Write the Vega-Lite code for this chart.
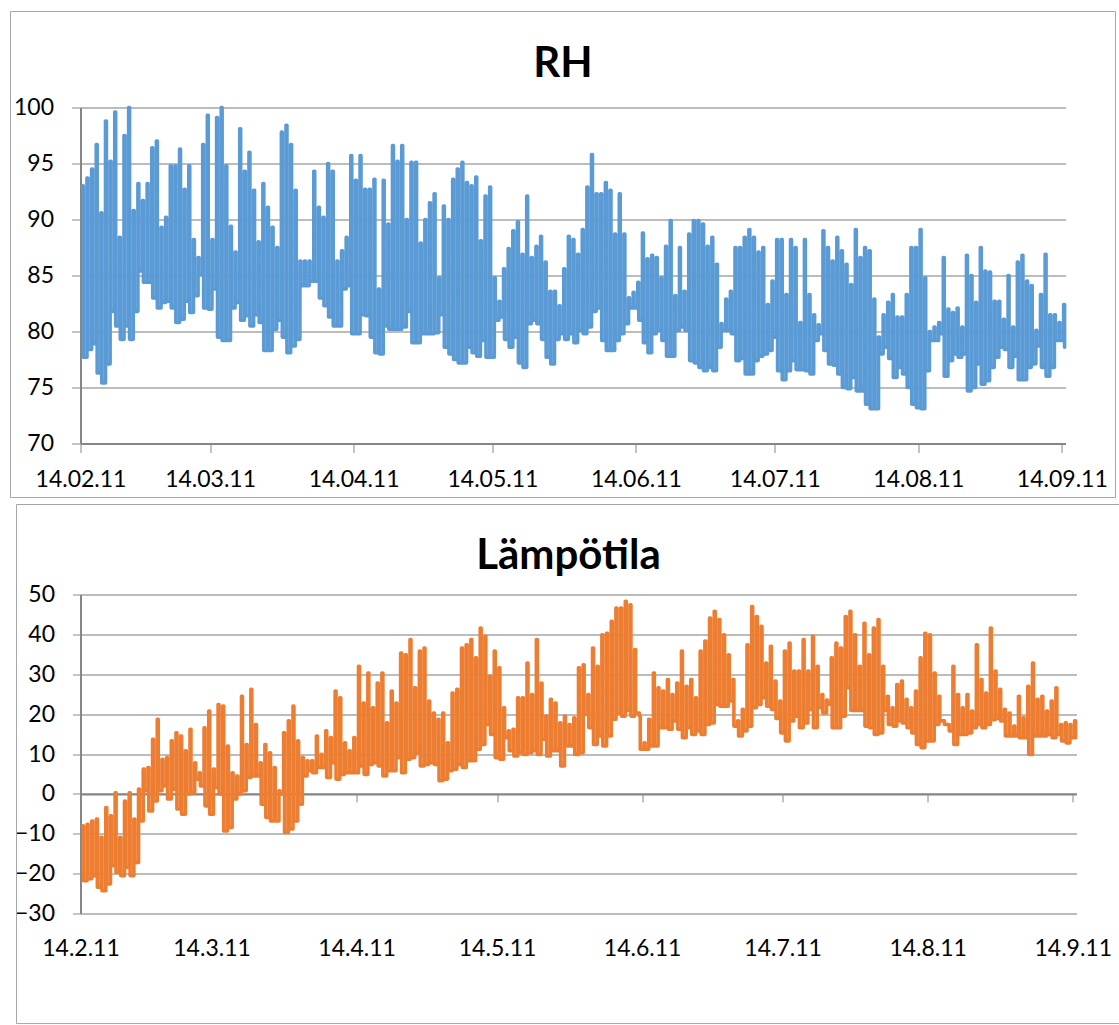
{
"$schema": "https://vega.github.io/schema/vega-lite/v6.json",
"background": "white",
"padding": {"left": 9.5, "top": 10.5, "right": 0, "bottom": 0},
"columns": 1,
"align": "none",
"spacing": 5,
"config": {"view": {"stroke": null}, "font": "Lato"},
"data": {"values": [
{"doy":45.4,"rh":93,"t":-8},{"doy":45.6,"rh":77.7,"t":-21.8},
{"doy":46.4,"rh":93.7,"t":-7.6},{"doy":46.6,"rh":78.4,"t":-21.3},
{"doy":47.4,"rh":94.5,"t":-6.8},{"doy":47.6,"rh":78.9,"t":-20.5},
{"doy":48.4,"rh":96.7,"t":-6.3},{"doy":48.6,"rh":76.3,"t":-23.4},
{"doy":49.4,"rh":90.6,"t":-10.9},{"doy":49.6,"rh":75.4,"t":-24.3},
{"doy":50.4,"rh":98.8,"t":-3.4},{"doy":50.6,"rh":77.1,"t":-22.6},
{"doy":51.4,"rh":95.2,"t":-5.5},{"doy":51.6,"rh":81.8,"t":-18},
{"doy":52.4,"rh":99.6,"t":0.3},{"doy":52.6,"rh":80.5,"t":-19.7},
{"doy":53.4,"rh":88.4,"t":-10.9},{"doy":53.6,"rh":79.3,"t":-20.5},
{"doy":54.4,"rh":97.5,"t":-1.8},{"doy":54.6,"rh":80.5,"t":-18.4},
{"doy":55.4,"rh":100,"t":0.3},{"doy":55.6,"rh":79.3,"t":-20.5},
{"doy":56.4,"rh":90.8,"t":-6.3},{"doy":56.6,"rh":81.8,"t":-17.2},
{"doy":57.4,"rh":93.2,"t":1.2},{"doy":57.6,"rh":85.4,"t":-6.8},
{"doy":58.4,"rh":91.7,"t":6.2},{"doy":58.6,"rh":84.4,"t":0.8},
{"doy":59.4,"rh":93.2,"t":6.6},{"doy":59.6,"rh":84.4,"t":-4.3},
{"doy":60.4,"rh":96.4,"t":13.7},{"doy":60.6,"rh":83,"t":-1.8},
{"doy":61.4,"rh":97,"t":18.7},{"doy":61.6,"rh":82.1,"t":0.8},
{"doy":62.4,"rh":89.3,"t":8.7},{"doy":62.6,"rh":82.6,"t":2},
{"doy":63.4,"rh":90.2,"t":9.1},{"doy":63.6,"rh":82.7,"t":-1.3},
{"doy":64.4,"rh":94.8,"t":13.3},{"doy":64.6,"rh":82.1,"t":1.2},
{"doy":65.4,"rh":94.8,"t":15.3},{"doy":65.6,"rh":80.8,"t":-3.8},
{"doy":66.4,"rh":96.3,"t":14.5},{"doy":66.6,"rh":81.1,"t":-5.1},
{"doy":67.4,"rh":92.7,"t":10.8},{"doy":67.6,"rh":82.7,"t":0},
{"doy":68.4,"rh":94.8,"t":16.2},{"doy":68.6,"rh":81.7,"t":0.3},
{"doy":69.4,"rh":88.2,"t":7.8},{"doy":69.6,"rh":83.2,"t":3.7},
{"doy":70.4,"rh":86.6,"t":5.3},{"doy":70.6,"rh":85.1,"t":2},
{"doy":71.4,"rh":96.7,"t":16.6},{"doy":71.6,"rh":82.1,"t":-3},
{"doy":72.4,"rh":99.3,"t":20.8},{"doy":72.6,"rh":82,"t":-5.1},
{"doy":73.4,"rh":88.2,"t":6.2},{"doy":73.6,"rh":83.8,"t":1.6},
{"doy":74.4,"rh":99.1,"t":22.4},{"doy":74.6,"rh":79.5,"t":0},
{"doy":75.4,"rh":100,"t":22},{"doy":75.6,"rh":79.2,"t":-9.3},
{"doy":76.4,"rh":94.8,"t":12},{"doy":76.6,"rh":79.2,"t":-8.4},
{"doy":77.4,"rh":89.4,"t":5.3},{"doy":77.6,"rh":82.1,"t":-1.3},
{"doy":78.4,"rh":87.1,"t":4.5},{"doy":78.6,"rh":82.6,"t":0},
{"doy":79.4,"rh":98.1,"t":24.5},{"doy":79.6,"rh":81,"t":0.8},
{"doy":80.4,"rh":94.3,"t":12.4},{"doy":80.6,"rh":81.4,"t":4.1},
{"doy":81.4,"rh":96,"t":26.2},{"doy":81.6,"rh":80.5,"t":4.5},
{"doy":82.4,"rh":92.6,"t":17.4},{"doy":82.6,"rh":81.5,"t":4.5},
{"doy":83.4,"rh":88,"t":7.8},{"doy":83.6,"rh":80.8,"t":-2.6},
{"doy":84.4,"rh":93.2,"t":12.4},{"doy":84.6,"rh":78.3,"t":-5.9},
{"doy":85.4,"rh":91.1,"t":10.3},{"doy":85.6,"rh":78.3,"t":-6.8},
{"doy":86.4,"rh":89.3,"t":6.6},{"doy":86.6,"rh":80.2,"t":-6.8},
{"doy":87.4,"rh":87.5,"t":0.8},{"doy":87.6,"rh":81,"t":0},
{"doy":88.4,"rh":97.8,"t":15.3},{"doy":88.6,"rh":79.5,"t":-9.7},
{"doy":89.4,"rh":98.4,"t":18.3},{"doy":89.6,"rh":78.1,"t":-8.8},
{"doy":90.4,"rh":96.7,"t":22},{"doy":90.6,"rh":78.7,"t":-6.8},
{"doy":91.4,"rh":92.6,"t":13.3},{"doy":91.6,"rh":79.3,"t":-2.6},
{"doy":92.4,"rh":86.3,"t":9.1},{"doy":92.6,"rh":84.1,"t":4.5},
{"doy":93.4,"rh":86.3,"t":8.3},{"doy":93.6,"rh":84.1,"t":5.8},
{"doy":94.4,"rh":86.3,"t":8.3},{"doy":94.6,"rh":84.5,"t":5.3},
{"doy":95.4,"rh":94.3,"t":14.5},{"doy":95.6,"rh":84.5,"t":6.6},
{"doy":96.4,"rh":91.1,"t":9.9},{"doy":96.6,"rh":83,"t":6.6},
{"doy":97.4,"rh":90.2,"t":15.8},{"doy":97.6,"rh":82.3,"t":4.1},
{"doy":98.4,"rh":95,"t":14.1},{"doy":98.6,"rh":81.3,"t":7.8},
{"doy":99.4,"rh":94.3,"t":25.8},{"doy":99.6,"rh":80.5,"t":3.7},
{"doy":100.4,"rh":86.3,"t":24.1},{"doy":100.6,"rh":80.5,"t":4.9},
{"doy":101.4,"rh":87.2,"t":12.8},{"doy":101.6,"rh":83.8,"t":5.3},
{"doy":102.4,"rh":88.4,"t":10.8},{"doy":102.6,"rh":84.1,"t":5.3},
{"doy":103.4,"rh":95.7,"t":14.1},{"doy":103.6,"rh":79.8,"t":5.3},
{"doy":104.4,"rh":93.5,"t":32},{"doy":104.6,"rh":79.8,"t":7},
{"doy":105.4,"rh":95.7,"t":22.8},{"doy":105.6,"rh":81.5,"t":4.9},
{"doy":106.4,"rh":92.7,"t":30.3},{"doy":106.6,"rh":81.4,"t":7.4},
{"doy":107.4,"rh":92.7,"t":21.6},{"doy":107.6,"rh":79.5,"t":7.8},
{"doy":108.4,"rh":93.6,"t":27.8},{"doy":108.6,"rh":78.1,"t":7},
{"doy":109.4,"rh":83.8,"t":30.3},{"doy":109.6,"rh":78,"t":4.5},
{"doy":110.4,"rh":93.5,"t":17.8},{"doy":110.6,"rh":80.5,"t":5.8},
{"doy":111.4,"rh":89.6,"t":25.8},{"doy":111.6,"rh":80.2,"t":5.8},
{"doy":112.4,"rh":96.6,"t":22.8},{"doy":112.6,"rh":80.2,"t":9.1},
{"doy":113.4,"rh":95.2,"t":35.3},{"doy":113.6,"rh":80.2,"t":5.3},
{"doy":114.4,"rh":96.6,"t":34.9},{"doy":114.6,"rh":80.4,"t":8.7},
{"doy":115.4,"rh":90,"t":38.7},{"doy":115.6,"rh":81.8,"t":9.1},
{"doy":116.4,"rh":95.1,"t":26.6},{"doy":116.6,"rh":79,"t":10.3},
{"doy":117.4,"rh":95.1,"t":35.8},{"doy":117.6,"rh":79,"t":7},
{"doy":118.4,"rh":87.9,"t":36.6},{"doy":118.6,"rh":79.8,"t":7.4},
{"doy":119.4,"rh":90,"t":23.3},{"doy":119.6,"rh":79.8,"t":7.8},
{"doy":120.4,"rh":91.5,"t":20.3},{"doy":120.6,"rh":79.8,"t":7.4},
{"doy":121.4,"rh":92.3,"t":18.7},{"doy":121.6,"rh":79.9,"t":3.3},
{"doy":122.4,"rh":84.8,"t":20.3},{"doy":122.6,"rh":81.5,"t":3.7},
{"doy":123.4,"rh":91.2,"t":12.8},{"doy":123.6,"rh":78.6,"t":5.8},
{"doy":124.4,"rh":90,"t":25.3},{"doy":124.6,"rh":78,"t":6.2},
{"doy":125.4,"rh":93.6,"t":26.2},{"doy":125.6,"rh":77.5,"t":7.4},
{"doy":126.4,"rh":94.5,"t":36.6},{"doy":126.6,"rh":77.2,"t":6.6},
{"doy":127.4,"rh":95.1,"t":37.4},{"doy":127.6,"rh":77.2,"t":8.3},
{"doy":128.4,"rh":93.3,"t":38.7},{"doy":128.6,"rh":78.6,"t":8.3},
{"doy":129.4,"rh":93,"t":34.1},{"doy":129.6,"rh":78.1,"t":11.2},
{"doy":130.4,"rh":93.8,"t":41.6},{"doy":130.6,"rh":77.8,"t":12.4},
{"doy":131.4,"rh":88.1,"t":39.5},{"doy":131.6,"rh":79.2,"t":17.4},
{"doy":132.4,"rh":92.1,"t":29.5},{"doy":132.6,"rh":77.7,"t":14.9},
{"doy":133.4,"rh":92.9,"t":35.8},{"doy":133.6,"rh":77.7,"t":9.1},
{"doy":134.4,"rh":84.8,"t":31.6},{"doy":134.6,"rh":81,"t":8.7},
{"doy":135.4,"rh":82.7,"t":21.6},{"doy":135.6,"rh":81.3,"t":14.1},
{"doy":136.4,"rh":85.6,"t":15.8},{"doy":136.6,"rh":79.3,"t":10.8},
{"doy":137.4,"rh":87.4,"t":16.2},{"doy":137.6,"rh":78.6,"t":9.5},
{"doy":138.4,"rh":89,"t":24.1},{"doy":138.6,"rh":79.5,"t":10.3},
{"doy":139.4,"rh":89.8,"t":24.1},{"doy":139.6,"rh":77.2,"t":9.9},
{"doy":140.4,"rh":86.9,"t":32.8},{"doy":140.6,"rh":76.8,"t":10.3},
{"doy":141.4,"rh":92.1,"t":24.9},{"doy":141.6,"rh":80.7,"t":10.8},
{"doy":142.4,"rh":86.6,"t":38.7},{"doy":142.6,"rh":81,"t":9.9},
{"doy":143.4,"rh":87.6,"t":27.8},{"doy":143.6,"rh":80.7,"t":13.7},
{"doy":144.4,"rh":88.5,"t":19.5},{"doy":144.6,"rh":79.3,"t":9.5},
{"doy":145.4,"rh":86.2,"t":23.7},{"doy":145.6,"rh":77.7,"t":10.8},
{"doy":146.4,"rh":83.6,"t":22.8},{"doy":146.6,"rh":77.1,"t":10.8},
{"doy":147.4,"rh":83.6,"t":17.8},{"doy":147.6,"rh":79.3,"t":7},
{"doy":148.4,"rh":82.3,"t":19.5},{"doy":148.6,"rh":79.8,"t":12},
{"doy":149.4,"rh":85.6,"t":17.4},{"doy":149.6,"rh":79.3,"t":12},
{"doy":150.4,"rh":88.5,"t":19.1},{"doy":150.6,"rh":79.8,"t":9.9},
{"doy":151.4,"rh":88.2,"t":31.6},{"doy":151.6,"rh":79,"t":10.3},
{"doy":152.4,"rh":86.9,"t":32.4},{"doy":152.6,"rh":80.1,"t":19.9},
{"doy":153.4,"rh":89.1,"t":24.9},{"doy":153.6,"rh":79.8,"t":16.6},
{"doy":154.4,"rh":92.9,"t":36.6},{"doy":154.6,"rh":80.4,"t":12.4},
{"doy":155.4,"rh":95.8,"t":32},{"doy":155.6,"rh":81.8,"t":14.5},
{"doy":156.4,"rh":92.3,"t":39.9},{"doy":156.6,"rh":82.1,"t":12},
{"doy":157.4,"rh":92.3,"t":40.3},{"doy":157.6,"rh":79.2,"t":14.5},
{"doy":158.4,"rh":93.3,"t":43.3},{"doy":158.6,"rh":78.3,"t":18.7},
{"doy":159.4,"rh":92.6,"t":46.6},{"doy":159.6,"rh":78.3,"t":20.3},
{"doy":160.4,"rh":88.7,"t":46.6},{"doy":160.6,"rh":79.2,"t":19.5},
{"doy":161.4,"rh":92.3,"t":48.3},{"doy":161.6,"rh":79.8,"t":20.9},
{"doy":162.4,"rh":88.7,"t":47.4},{"doy":162.6,"rh":80.7,"t":19.5},
{"doy":163.4,"rh":83,"t":36.2},{"doy":163.6,"rh":82.1,"t":20.3},
{"doy":164.4,"rh":83.5,"t":19.5},{"doy":164.6,"rh":82.1,"t":11.2},
{"doy":165.4,"rh":84.4,"t":12.8},{"doy":165.6,"rh":81,"t":11.2},
{"doy":166.4,"rh":88.8,"t":18.7},{"doy":166.6,"rh":79,"t":12},
{"doy":167.4,"rh":86.5,"t":30.3},{"doy":167.6,"rh":78.1,"t":12},
{"doy":168.4,"rh":86.8,"t":26.6},{"doy":168.6,"rh":79.8,"t":16.6},
{"doy":169.4,"rh":86.6,"t":25.8},{"doy":169.6,"rh":80.1,"t":16.6},
{"doy":170.4,"rh":84.8,"t":28.7},{"doy":170.6,"rh":79.2,"t":16.2},
{"doy":171.4,"rh":87.6,"t":24.9},{"doy":171.6,"rh":77.8,"t":18.3},
{"doy":172.4,"rh":89.9,"t":27.8},{"doy":172.6,"rh":77.8,"t":16.2},
{"doy":173.4,"rh":83.2,"t":35.8},{"doy":173.6,"rh":80.1,"t":14.1},
{"doy":174.4,"rh":87.5,"t":27},{"doy":174.6,"rh":80.4,"t":16.6},
{"doy":175.4,"rh":83.6,"t":28.7},{"doy":175.6,"rh":80.1,"t":14.9},
{"doy":176.4,"rh":88.7,"t":24.1},{"doy":176.6,"rh":77.4,"t":15.8},
{"doy":177.4,"rh":89.9,"t":35.8},{"doy":177.6,"rh":77.2,"t":14.9},
{"doy":178.4,"rh":89.9,"t":38.3},{"doy":178.6,"rh":76.8,"t":17.4},
{"doy":179.4,"rh":89.6,"t":44.1},{"doy":179.6,"rh":76.5,"t":17.8},
{"doy":180.4,"rh":87.6,"t":45.8},{"doy":180.6,"rh":76.8,"t":22.4},
{"doy":181.4,"rh":88.4,"t":43.7},{"doy":181.6,"rh":76.5,"t":22},
{"doy":182.4,"rh":86,"t":39.9},{"doy":182.6,"rh":78.6,"t":22},
{"doy":183.4,"rh":80.7,"t":34.9},{"doy":183.6,"rh":80.1,"t":23.3},
{"doy":184.4,"rh":82.9,"t":28.7},{"doy":184.6,"rh":80.1,"t":17},
{"doy":185.4,"rh":83.6,"t":18.3},{"doy":185.6,"rh":79.8,"t":14.5},
{"doy":186.4,"rh":87.5,"t":21.2},{"doy":186.6,"rh":77.4,"t":15.8},
{"doy":187.4,"rh":87.5,"t":37.4},{"doy":187.6,"rh":77.6,"t":17},
{"doy":188.4,"rh":88.4,"t":47},{"doy":188.6,"rh":76.2,"t":21.6},
{"doy":189.4,"rh":89.1,"t":44.5},{"doy":189.6,"rh":76.2,"t":22.4},
{"doy":190.4,"rh":88.4,"t":42},{"doy":190.6,"rh":77.4,"t":24.1},
{"doy":191.4,"rh":87.1,"t":32.8},{"doy":191.6,"rh":77.8,"t":22},
{"doy":192.4,"rh":87.5,"t":37},{"doy":192.6,"rh":78,"t":21.2},
{"doy":193.4,"rh":82.4,"t":28.3},{"doy":193.6,"rh":78.3,"t":18.9},
{"doy":194.4,"rh":84.5,"t":23.3},{"doy":194.6,"rh":79.5,"t":15.3},
{"doy":195.4,"rh":88.2,"t":35.8},{"doy":195.6,"rh":76.5,"t":13.3},
{"doy":196.4,"rh":88.2,"t":37.8},{"doy":196.6,"rh":75.7,"t":18.3},
{"doy":197.4,"rh":83.3,"t":30.8},{"doy":197.6,"rh":76.5,"t":19.5},
{"doy":198.4,"rh":88.2,"t":30.8},{"doy":198.6,"rh":77.4,"t":16.6},
{"doy":199.4,"rh":87.5,"t":38.7},{"doy":199.6,"rh":76.6,"t":17.8},
{"doy":200.4,"rh":80.8,"t":30.8},{"doy":200.6,"rh":76.6,"t":21.2},
{"doy":201.4,"rh":88.2,"t":39.5},{"doy":201.6,"rh":76.5,"t":16.6},
{"doy":202.4,"rh":83.3,"t":32},{"doy":202.6,"rh":76.2,"t":21.6},
{"doy":203.4,"rh":81.5,"t":24.9},{"doy":203.6,"rh":79.2,"t":20.3},
{"doy":204.4,"rh":80.6,"t":23.5},{"doy":204.6,"rh":79.8,"t":22.5},
{"doy":205.4,"rh":89,"t":34.1},{"doy":205.6,"rh":78.3,"t":16.6},
{"doy":206.4,"rh":87.5,"t":37.8},{"doy":206.6,"rh":77.1,"t":16.6},
{"doy":207.4,"rh":86.3,"t":36.6},{"doy":207.6,"rh":77,"t":19.5},
{"doy":208.4,"rh":88.4,"t":44.5},{"doy":208.6,"rh":76.2,"t":26.6},
{"doy":209.4,"rh":87.2,"t":45.8},{"doy":209.6,"rh":75,"t":20.9},
{"doy":210.4,"rh":86,"t":39.9},{"doy":210.6,"rh":74.9,"t":20.9},
{"doy":211.4,"rh":84.2,"t":32},{"doy":211.6,"rh":75.9,"t":20.9},
{"doy":212.4,"rh":89.1,"t":42.8},{"doy":212.6,"rh":74.7,"t":17},
{"doy":213.4,"rh":86.6,"t":34.9},{"doy":213.6,"rh":74.7,"t":16.6},
{"doy":214.4,"rh":87.5,"t":41.6},{"doy":214.6,"rh":73.5,"t":14.9},
{"doy":215.4,"rh":87.2,"t":43.7},{"doy":215.6,"rh":73.1,"t":15.3},
{"doy":216.4,"rh":82.9,"t":32},{"doy":216.6,"rh":73.1,"t":20.9},
{"doy":217.4,"rh":79.5,"t":24.5},{"doy":217.6,"rh":78,"t":17.4},
{"doy":218.4,"rh":81.5,"t":21.6},{"doy":218.6,"rh":78.6,"t":17},
{"doy":219.4,"rh":82.6,"t":27.4},{"doy":219.6,"rh":77.6,"t":18.3},
{"doy":220.4,"rh":83.3,"t":28.3},{"doy":220.6,"rh":75.9,"t":17.8},
{"doy":221.4,"rh":81.3,"t":23.7},{"doy":221.6,"rh":76.8,"t":16.6},
{"doy":222.4,"rh":81.3,"t":21.6},{"doy":222.6,"rh":76.2,"t":15.3},
{"doy":223.4,"rh":83.3,"t":25.8},{"doy":223.6,"rh":75,"t":12.4},
{"doy":224.4,"rh":87.5,"t":34.1},{"doy":224.6,"rh":73.5,"t":11.6},
{"doy":225.4,"rh":87.5,"t":40.3},{"doy":225.6,"rh":73.2,"t":13.3},
{"doy":226.4,"rh":89.1,"t":39.9},{"doy":226.6,"rh":73.1,"t":13.3},
{"doy":227.4,"rh":84.8,"t":30.3},{"doy":227.6,"rh":76.5,"t":17.4},
{"doy":228.4,"rh":80,"t":24.5},{"doy":228.6,"rh":79.2,"t":18.3},
{"doy":229.4,"rh":80.4,"t":18.3},{"doy":229.6,"rh":79.2,"t":17.4},
{"doy":230.4,"rh":80.8,"t":17.4},{"doy":230.6,"rh":79.8,"t":15.8},
{"doy":231.4,"rh":86.6,"t":32},{"doy":231.6,"rh":76,"t":12.4},
{"doy":232.4,"rh":82,"t":24.9},{"doy":232.6,"rh":77.4,"t":14.9},
{"doy":233.4,"rh":81.7,"t":21.6},{"doy":233.6,"rh":78,"t":14.9},
{"doy":234.4,"rh":82.1,"t":24.9},{"doy":234.6,"rh":77.7,"t":15.3},
{"doy":235.4,"rh":80.4,"t":20.8},{"doy":235.6,"rh":78,"t":16.6},
{"doy":236.4,"rh":86.8,"t":37.4},{"doy":236.6,"rh":74.7,"t":17.4},
{"doy":237.4,"rh":85,"t":28.7},{"doy":237.6,"rh":75,"t":16.6},
{"doy":238.4,"rh":82.6,"t":25.3},{"doy":238.6,"rh":77.1,"t":17.4},
{"doy":239.4,"rh":87.5,"t":41.6},{"doy":239.6,"rh":75.3,"t":18.6},
{"doy":240.4,"rh":85.4,"t":30.8},{"doy":240.6,"rh":75.6,"t":18.9},
{"doy":241.4,"rh":85.3,"t":26.2},{"doy":241.6,"rh":76.8,"t":18.3},
{"doy":242.4,"rh":82.7,"t":21.2},{"doy":242.6,"rh":77.7,"t":14.5},
{"doy":243.4,"rh":82.7,"t":20.3},{"doy":243.6,"rh":78.6,"t":14.5},
{"doy":244.4,"rh":81.1,"t":17},{"doy":244.6,"rh":78.4,"t":14.5},
{"doy":245.4,"rh":85,"t":24.5},{"doy":245.6,"rh":76.8,"t":14.1},
{"doy":246.4,"rh":80.4,"t":19.1},{"doy":246.6,"rh":77.8,"t":14.1},
{"doy":247.4,"rh":86.2,"t":27},{"doy":247.6,"rh":75.7,"t":9.9},
{"doy":248.4,"rh":86.8,"t":32.8},{"doy":248.6,"rh":75.7,"t":14.5},
{"doy":249.4,"rh":84.5,"t":23.7},{"doy":249.6,"rh":76.8,"t":14.5},
{"doy":250.4,"rh":84.1,"t":24.5},{"doy":250.6,"rh":77.1,"t":14.5},
{"doy":251.4,"rh":80.1,"t":20.8},{"doy":251.6,"rh":78.7,"t":14.9},
{"doy":252.4,"rh":83.3,"t":23.3},{"doy":252.6,"rh":76.8,"t":14.1},
{"doy":253.4,"rh":86.9,"t":26.6},{"doy":253.6,"rh":76,"t":14.9},
{"doy":254.4,"rh":81.5,"t":17.4},{"doy":254.6,"rh":76.8,"t":13.3},
{"doy":255.4,"rh":81.5,"t":17.8},{"doy":255.6,"rh":79.2,"t":12.8},
{"doy":256.4,"rh":80.8,"t":17.4},{"doy":256.6,"rh":79.2,"t":14.1},
{"doy":257.4,"rh":82.4,"t":18.3},{"doy":257.6,"rh":78.6,"t":14.1}
]},
"concat": [
{
"width": 985, "height": 336,
"layer": [
{"data": {"values": [{}]},
 "mark": {"type": "rect", "filled": false, "color": "#a6a6a6", "strokeWidth": 1},
 "encoding": {
  "x": {"datum": 29.88, "type": "quantitative"}, "x2": {"datum": 268.6},
  "y": {"datum": 108.57, "type": "quantitative"}, "y2": {"datum": 65.18}}},
{"data": {"values": [{}]},
 "mark": {"type": "text", "text": "RH", "font": "Lato", "fontSize": 42, "fontWeight": "bold", "color": "#000000", "align": "center", "baseline": "alphabetic"},
 "encoding": {
  "x": {"datum": 149.24, "type": "quantitative"},
  "y": {"datum": 102.68, "type": "quantitative"}}},
{"mark": {"type": "line", "interpolate": "step-after", "strokeWidth": 3.6, "color": "#5b9bd5", "strokeJoin": "round", "strokeCap": "round"},
 "encoding": {
  "x": {"field": "doy", "type": "quantitative", "scale": {"domain": [45, 257.8], "nice": false, "zero": false},
   "axis": {"title": null, "values": [45,73,104,134,165,195,226,257], "tickCount": 30, "labelExpr": "timeFormat(datetime(2011, 0, datum.value), '%d.%m.%y')", "grid": false, "domainColor": "#868686", "domainWidth": 2, "tickColor": "#868686", "tickWidth": 1, "tickSize": 9, "labelPadding": 15.6, "labelFlush": false, "labelOverlap": false, "labelBound": false, "labelFont": "Lato", "labelFontSize": 23, "labelColor": "#000000"}},
  "y": {"field": "rh", "type": "quantitative", "scale": {"domain": [70, 100], "nice": false, "zero": false},
   "axis": {"title": null, "values": [70,75,80,85,90,95,100], "tickCount": 20, "grid": true, "gridColor": "#a6a6a6", "gridWidth": 1.3, "domainColor": "#868686", "domainWidth": 2, "tickColor": "#a6a6a6", "tickWidth": 1.3, "tickSize": 9, "labelPadding": 18, "labelOverlap": false, "labelFont": "Lato", "labelFontSize": 23, "labelColor": "#000000"}}}}
]
},
{
"width": 996, "height": 319,
"layer": [
{"data": {"values": [{}]},
 "mark": {"type": "rect", "filled": false, "color": "#a6a6a6", "strokeWidth": 1},
 "encoding": {
  "x": {"datum": 31.33, "type": "quantitative"}, "x2": {"datum": 267.4},
  "y": {"datum": 72.57, "type": "quantitative"}, "y2": {"datum": -57.6}}},
{"data": {"values": [{}]},
 "mark": {"type": "text", "text": "Lämpötila", "font": "Lato", "fontSize": 42, "fontWeight": "bold", "color": "#000000", "align": "center", "baseline": "alphabetic"},
 "encoding": {
  "x": {"datum": 149.26, "type": "quantitative"},
  "y": {"datum": 56.27, "type": "quantitative"}}},
{"mark": {"type": "line", "interpolate": "step-after", "strokeWidth": 3.6, "color": "#ed7d31", "strokeJoin": "round", "strokeCap": "round"},
 "encoding": {
  "x": {"field": "doy", "type": "quantitative", "scale": {"domain": [45, 257.8], "nice": false, "zero": false},
   "axis": {"title": null, "offset": -119.6, "values": [45,73,104,134,165,195,226,257], "tickCount": 30, "labelExpr": "timeFormat(datetime(2011, 0, datum.value), '%-d.%-m.%y')", "grid": false, "domainColor": "#868686", "domainWidth": 2, "tickColor": "#868686", "tickWidth": 1, "tickSize": 8, "labelPadding": 135.6, "labelFlush": false, "labelOverlap": false, "labelBound": false, "labelFont": "Lato", "labelFontSize": 23, "labelColor": "#000000"}},
  "y": {"field": "t", "type": "quantitative", "scale": {"domain": [-30, 50], "nice": false, "zero": false},
   "axis": {"title": null, "values": [-30,-20,-10,0,10,20,30,40,50], "tickCount": 20, "grid": true, "gridColor": "#a6a6a6", "gridWidth": 1.3, "domainColor": "#868686", "domainWidth": 2, "tickColor": "#a6a6a6", "tickWidth": 1.3, "tickSize": 8, "labelPadding": 18, "labelOverlap": false, "labelFont": "Lato", "labelFontSize": 23, "labelColor": "#000000"}}}}
]
}
]
}
